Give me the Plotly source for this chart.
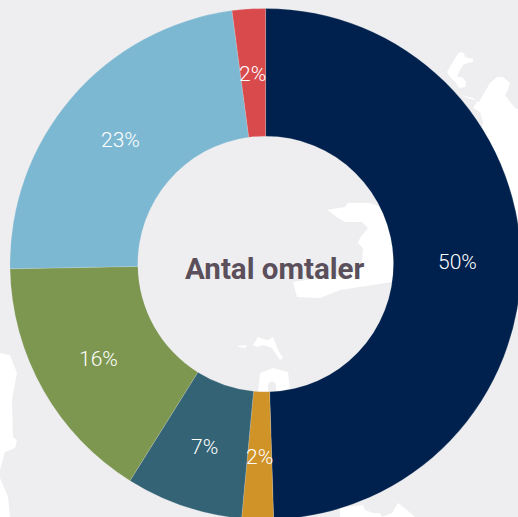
import math
import plotly.graph_objects as go

categories = ["Kategori 1", "Kategori 2", "Kategori 3", "Kategori 4", "Kategori 5", "Kategori 6"]
values = [49.5, 2.0, 7.4, 15.8, 23.2, 2.1]
value_labels = ["50%", "2%", "7%", "16%", "23%", "2%"]
colors = ["#00214D", "#D09327", "#336375", "#7D9751", "#7DB8D2", "#D94A4D"]
center_title = "Antal omtaler"

W, H = 524, 522
CX, CY, R = 265.6, 264, 255.6
HOLE = 0.5

# Decorative background map (page pixels)
land = [
    [(460,52),(464,53),(465,57),(473,59),(473,62),(468,63),(463,65),(460,70),(457,77),(462,77),(466,82),(465,87),(459,88),(456,83),(450,77),(447,72),(453,62),(457,55)],
    [(497,77),(503,77),(510,83),(508,90),(505,95),(515,108),(524,112),(524,330),(470,200),(483,122),(480,112),(473,108),(477,102),(473,98),(460,95),(479,102),(490,83)],
    [(327,210),(345,207),(348,203),(370,203),(385,208),(392,225),(395,270),(392,282),(340,290),(320,298),(297,297),(293,282),(320,278),(350,275),(362,262),(363,248),(358,243),(360,238),(368,228),(362,222),(345,222),(338,218)],
    [(260,373),(273,368),(288,372),(290,392),(276,392),(276,384),(272,381),(268,384),(268,392),(258,392)],
    [(253,345),(258,337),(263,339),(268,340),(273,337),(278,350),(283,358),(280,360),(272,348),(263,345),(257,347)],
    [(238,346),(247,345),(245,348),(238,347)],
    [(0,353),(10,355),(17,373),(12,400),(13,437),(17,440),(15,448),(5,452),(0,470)],
    [(0,478),(8,497),(10,517),(0,517)],
    [(340,508),(363,505),(365,510),(373,513),(380,513),(382,517),(392,513),(398,503),(407,510),(415,517),(415,522),(340,522)],
]

def path(points):
    return "M" + " L".join(f"{x/W:.5f},{1-y/H:.5f}" for x, y in points) + " Z"

shapes = [dict(type="path", xref="paper", yref="paper", path=path(p),
               fillcolor="#FFFFFF", line=dict(width=0), layer="below") for p in land]

# Percent labels sit at the middle of each ring segment, upright
annotations = []
total = sum(values)
running = 0.0
mid_r = R * (1 + HOLE) / 2
for value, label in zip(values, value_labels):
    angle = 2 * math.pi * (running + value / 2) / total
    running += value
    px = CX + mid_r * math.sin(angle)
    py = CY - mid_r * math.cos(angle) + 1
    annotations.append(dict(text=label, xref="paper", yref="paper", x=px/W, y=1-py/H,
                            showarrow=False, xanchor="center", yanchor="middle",
                            font=dict(family="Roboto", size=21, color="#FFFFFF", weight=300)))
annotations.append(dict(text=f"<b>{center_title}</b>", xref="paper", yref="paper",
                        x=275/W, y=1-269/H, showarrow=False,
                        xanchor="center", yanchor="middle",
                        font=dict(family="Roboto", size=29.5, color="#5B4F5B")))

fig = go.Figure(go.Pie(
    labels=categories, values=values, text=value_labels, textinfo="none",
    sort=False, direction="clockwise", rotation=0, hole=HOLE,
    marker=dict(colors=colors, line=dict(color="rgba(238,238,240,0.35)", width=0.5)),
    domain=dict(x=[(CX-R)/W, (CX+R)/W], y=[1-(CY+R)/H, 1-(CY-R)/H]),
    showlegend=False, hoverinfo="label+text",
))
fig.update_layout(
    width=W, height=H, autosize=False,
    margin=dict(l=0, r=0, t=0, b=0, pad=0),
    paper_bgcolor="#EEEEF0", plot_bgcolor="#EEEEF0",
    shapes=shapes,
    annotations=annotations,
)
fig.write_html("out.html", config={"displayModeBar": False},
               post_script="document.documentElement.style.overflow='hidden';document.body.style.overflow='hidden';document.body.style.margin='0';")
